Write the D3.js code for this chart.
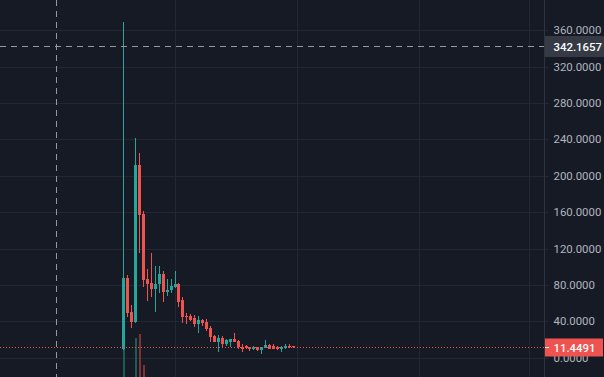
<!DOCTYPE html>
<html><head><meta charset="utf-8">
<script src="https://cdn.jsdelivr.net/npm/d3@7"></script>
<style>html,body{margin:0;padding:0;background:#161a25;overflow:hidden}</style>
</head><body><svg id="c" width="604" height="377"></svg>
<script>
// ---- data (daily candles) ----
const dates = ["2021-11-18","2021-11-19","2021-11-20","2021-11-21","2021-11-22","2021-11-23","2021-11-24","2021-11-25","2021-11-26","2021-11-27","2021-11-28","2021-11-29","2021-11-30","2021-12-01","2021-12-02","2021-12-03","2021-12-04","2021-12-05","2021-12-06","2021-12-07","2021-12-08","2021-12-09","2021-12-10","2021-12-11","2021-12-12","2021-12-13","2021-12-14","2021-12-15","2021-12-16","2021-12-17","2021-12-18","2021-12-19","2021-12-20","2021-12-21","2021-12-22","2021-12-23","2021-12-24","2021-12-25","2021-12-26","2021-12-27","2021-12-28","2021-12-29","2021-12-30","2021-12-31"];
const opens  = [10,87.6,50.5,39.6,211.4,158.3,86.8,82.1,75.8,80.7,92,72.5,74,78,81.3,63.4,46.2,46.2,43.6,37,41.4,39.6,32.6,24.2,17.3,21.6,15.4,17.3,20.5,18.7,12.1,12.9,11.4,9.6,11.4,8.5,11,14,12.5,12.1,9.9,10.7,13.2,12.5];
const highs  = [369,90.5,57.9,241.4,224.6,161.2,97.8,115,100.8,100.8,95.6,86.5,86.5,95.3,82,67,49.5,48.4,46.6,45.8,42,42.5,34.8,24.9,24.9,23.8,20.2,20.5,27.1,19.5,14.7,14,12,12.9,11.8,12.2,19.5,15.1,14.7,12.5,12.5,14.7,14.7,12.8];
const lows   = [9,45,33,38.5,115.4,78,62,66.4,50.5,70.8,60.9,67.5,70.8,76.9,56,37.8,37.4,40.3,34.1,27.5,34.5,29.3,17.6,17,6.6,11,13.2,12.1,17,9.9,6.6,9.2,7.7,8.5,7.7,4.4,11,9.6,9.2,8.5,6.6,10,11,11.2];
const closes = [87.6,49.5,39.6,211.4,157.1,85.4,81,75.8,81,92,72.5,74.4,78.8,81.3,61.5,45,45.1,41.8,37,41.4,38.5,31.5,23.1,17.3,21.6,15.4,19.1,20.5,17.3,11.4,9.9,11,9.2,11.8,8.8,11.8,14,9.9,9.6,9.2,12.1,13.2,11.4,11.4491];
const volumes = [51,20,18,62,66,35,15,14,12,10,11,8,7,8,10,9,6,5,6,7,5,6,8,7,6,5,4,4,5,6,5,4,3,4,3,4,5,4,3,3,4,3,3,2];
const priceTicks = [0,40,80,120,160,200,240,280,320,360];
const crosshairPrice = 342.1657;
const crosshairDate = "2021-11-01";
const lastPrice = 11.4491;

// ---- layout ----
const W = 604, H = 377, plotRight = 544;
const C = {bg:"#161a25", grid:"#232733", border:"#2f333e", text:"#b2b5be",
           up:"#26a69a", down:"#ef5350", upVol:"#1d5b57", downVol:"#7e3235",
           cross:"#9598a1", crossBox:"#363a45"};
const FONT = "Roboto, 'Noto Sans', sans-serif", FS = 11.4, LX = 553.5;
const parse = d3.utcParse("%Y-%m-%d");
const svg = d3.select("#c");
svg.append("rect").attr("width", W).attr("height", H).attr("fill", C.bg);

const y = d3.scaleLinear().domain([0, 360]).range([357.7, 30.1]);
const x = d3.scaleUtc().domain([parse("2021-11-01"), parse("2022-03-01")]).range([56.3, 529.3]);
const yv = d3.scaleLinear().domain([0, 100]).range([400, 300]);

// grid
const g = svg.append("g");
const months = d3.utcMonth.range(parse("2021-12-01"), parse("2022-03-02"));
g.selectAll(".vg").data(months).join("line")
  .attr("x1", d => Math.round(x(d)) + 0.5).attr("x2", d => Math.round(x(d)) + 0.5)
  .attr("y1", 0).attr("y2", H).attr("stroke", C.grid).attr("stroke-width", 1);
g.selectAll(".hg").data(priceTicks).join("line")
  .attr("x1", 0).attr("x2", plotRight + 5)
  .attr("y1", d => Math.round(y(d)) + 0.5).attr("y2", d => Math.round(y(d)) + 0.5)
  .attr("stroke", C.grid).attr("stroke-width", 1);

// candles
const data = dates.map((d, i) => ({date: parse(d), o: opens[i], h: highs[i], l: lows[i], c: closes[i], v: volumes[i]}));
const cg = svg.append("g");
cg.selectAll(".vol").data(data).join("rect")
  .attr("x", d => Math.round(x(d.date)))
  .attr("width", 2)
  .attr("y", d => yv(d.v))
  .attr("height", d => yv(0) - yv(d.v))
  .attr("fill", d => d.c >= d.o ? C.upVol : C.downVol);
cg.selectAll(".wick").data(data).join("rect")
  .attr("x", d => Math.round(x(d.date)))
  .attr("width", 1)
  .attr("y", d => Math.round(y(d.h)))
  .attr("height", d => Math.max(1, Math.round(y(d.l)) - Math.round(y(d.h))))
  .attr("fill", d => d.c >= d.o ? C.up : C.down);
cg.selectAll(".body").data(data).join("rect")
  .attr("x", d => Math.round(x(d.date)) - 1)
  .attr("width", 3)
  .attr("y", d => Math.round(y(Math.max(d.o, d.c))))
  .attr("height", d => Math.max(1, Math.round(y(Math.min(d.o, d.c))) - Math.round(y(Math.max(d.o, d.c)))))
  .attr("fill", d => d.c >= d.o ? C.up : C.down);

// last price dotted line
const ly = Math.round(y(lastPrice)) + 0.5;
svg.append("line").attr("x1", 0).attr("x2", plotRight).attr("y1", ly).attr("y2", ly)
  .attr("stroke", C.down).attr("stroke-width", 1).attr("stroke-dasharray", "1,2");

// crosshair
const cx = Math.round(x(parse(crosshairDate))) + 0.5;
const cy = Math.round(y(crosshairPrice)) + 0.5;
svg.append("line").attr("x1", cx).attr("x2", cx).attr("y1", 0).attr("y2", H)
  .attr("stroke", C.cross).attr("stroke-dasharray", "6,5");
svg.append("line").attr("x1", 0).attr("x2", plotRight).attr("y1", cy).attr("y2", cy)
  .attr("stroke", C.cross).attr("stroke-dasharray", "6,5");

// price axis
svg.append("line").attr("x1", plotRight + 0.5).attr("x2", plotRight + 0.5).attr("y1", 0).attr("y2", H)
  .attr("stroke", C.border);
const fmt = d3.format(".4f");
// the 0.0000 label sits partly behind the last-price badge, as in the reference
svg.append("g").selectAll("text").data(priceTicks).join("text")
  .attr("x", LX).attr("y", d => y(d)).attr("dy", "0.36em")
  .attr("font-family", FONT).attr("font-size", FS)
  .attr("fill", C.text).text(d => fmt(d));

// crosshair label
svg.append("rect").attr("x", plotRight + 1).attr("y", cy - 10.5).attr("width", W - plotRight - 1).attr("height", 21).attr("fill", C.crossBox);
svg.append("text").attr("x", LX).attr("y", cy).attr("dy", "0.36em")
  .attr("font-family", FONT).attr("font-size", FS).attr("font-weight", 500)
  .attr("fill", "#ffffff").text(fmt(crosshairPrice));

// last price label
svg.append("rect").attr("x", plotRight + 1).attr("y", ly - 9).attr("width", W - plotRight - 2).attr("height", 18).attr("fill", C.down);
svg.append("line").attr("x1", plotRight + 1).attr("x2", plotRight + 5).attr("y1", ly).attr("y2", ly).attr("stroke", "#ffffff");
svg.append("text").attr("x", LX).attr("y", ly).attr("dy", "0.36em")
  .attr("font-family", FONT).attr("font-size", FS).attr("font-weight", 500)
  .attr("fill", "#ffffff").text(fmt(lastPrice));
</script></body></html>
